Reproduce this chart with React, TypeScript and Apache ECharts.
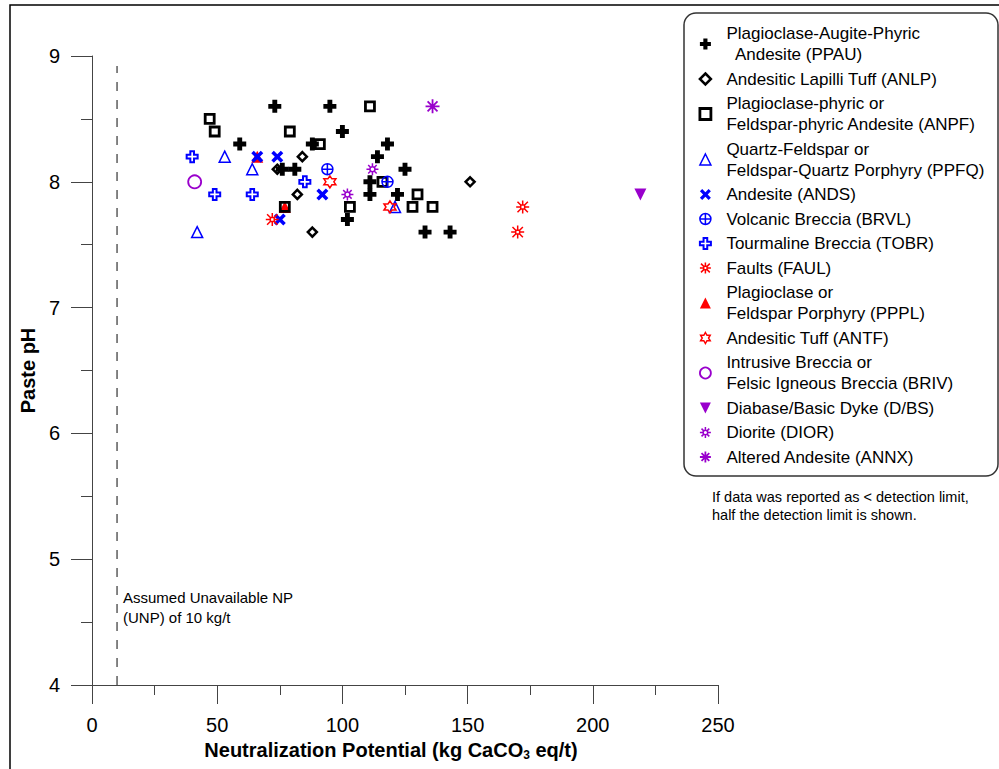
import React, { useEffect, useRef } from 'react';
import * as echarts from 'echarts';

// Axis ticks
const xTicks = [0, 50, 100, 150, 200, 250];
const yTicks = [4, 5, 6, 7, 8, 9];

// Series values: [NP (kg CaCO3 eq/t), paste pH]
const ppau = [[73, 8.6], [95, 8.6], [59, 8.3], [88, 8.3], [100, 8.4], [118, 8.3], [114, 8.2], [125, 8.1], [76, 8.1], [81, 8.1], [111, 8.0], [111, 7.9], [122, 7.9], [102, 7.7], [133, 7.6], [143, 7.6]];
const anlp = [[84, 8.2], [74, 8.1], [82, 7.9], [88, 7.6], [151, 8.0]];
const anpf = [[47, 8.5], [49, 8.4], [79, 8.4], [91, 8.3], [111, 8.6], [77, 7.8], [103, 7.8], [116, 8.0], [130, 7.9], [128, 7.8], [136, 7.8]];
const ppfq = [[42, 7.6], [53, 8.2], [64, 8.1], [121, 7.8]];
const ands = [[66, 8.2], [74, 8.2], [92, 7.9], [75, 7.7]];
const brvl = [[94, 8.1], [118, 8.0]];
const tobr = [[40, 8.2], [49, 7.9], [64, 7.9], [85, 8.0]];
const faul = [[72, 7.7], [170, 7.6], [172, 7.8]];
const pppl = [[66, 8.2], [77, 7.8]];
const antf = [[95, 8.0], [119, 7.8]];
const briv = [[41, 8.0]];
const dbs = [[219, 7.9]];
const dior = [[102, 7.9], [112, 8.1]];
const annx = [[136, 8.6]];

const unpValue = 10;
const unpLine = [[unpValue, 4], [unpValue, 8.92]];

const names = [
  'Plagioclase-Augite-Phyric\n  Andesite (PPAU)',
  'Andesitic Lapilli Tuff (ANLP)',
  'Plagioclase-phyric or\nFeldspar-phyric Andesite (ANPF)',
  'Quartz-Feldspar or\nFeldspar-Quartz Porphyry (PPFQ)',
  'Andesite (ANDS)',
  'Volcanic Breccia (BRVL)',
  'Tourmaline Breccia (TOBR)',
  'Faults (FAUL)',
  'Plagioclase or\nFeldspar Porphyry (PPPL)',
  'Andesitic Tuff (ANTF)',
  'Intrusive Breccia or\nFelsic Igneous Breccia (BRIV)',
  'Diabase/Basic Dyke (D/BS)',
  'Diorite (DIOR)',
  'Altered Andesite (ANNX)',
];

const BLACK = '#000000';
const BLUE = '#0000FF';
const RED = '#FF0000';
const PURPLE = '#9900CC';

const P_PLUS = 'path://M3.75,0H8.25V3.75H12V8.25H8.25V12H3.75V8.25H0V3.75H3.75Z';
const P_X = 'path://M0,2.5L2.5,0L6,3.5L9.5,0L12,2.5L8.5,6L12,9.5L9.5,12L6,8.5L2.5,12L0,9.5L3.5,6Z';
const P_CPLUS = 'path://M0,6A6,6,0,1,1,12,6A6,6,0,1,1,0,6ZM6,0V12M0,6H12';
const P_OPLUS = 'path://M4,0H8V4H12V8H8V12H4V8H0V4H4Z';
const P_BURST = 'path://M4.2,4.2H7.8V7.8H4.2ZM6,0V4.2M6,7.8V12M0,6H4.2M7.8,6H12M1.2,1.2L4.2,4.2M7.8,7.8L10.8,10.8M10.8,1.2L7.8,4.2M4.2,7.8L1.2,10.8';
const P_HEX = 'path://M6,0L7.73,3L11.2,3L9.46,6L11.2,9L7.73,9L6,12L4.27,9L0.8,9L2.54,6L0.8,3L4.27,3Z';
const P_DOWN = 'path://M0,0H12L6,12Z';
const P_SUN = 'path://M8.5,6A2.5,2.5,0,1,1,3.5,6A2.5,2.5,0,1,1,8.5,6ZM6,0V2.8M6,9.2V12M0,6H2.8M9.2,6H12M1.76,1.76L3.7,3.7M8.3,8.3L10.24,10.24M10.24,1.76L8.3,3.7M3.7,8.3L1.76,10.24';
const P_AST = 'path://M6,0V12M0,6H12M1.76,1.76L10.24,10.24M10.24,1.76L1.76,10.24';

type Def = { data: number[][]; symbol: string; size: number; fill: string; stroke: string; bw: number; z?: number };

const defs: Def[] = [
  { data: ppau, symbol: P_PLUS, size: 13, fill: BLACK, stroke: BLACK, bw: 0 },
  { data: anlp, symbol: 'diamond', size: 9, fill: 'transparent', stroke: BLACK, bw: 2.5 },
  { data: anpf, symbol: 'rect', size: 9, fill: 'transparent', stroke: BLACK, bw: 2.8 },
  { data: ppfq, symbol: 'triangle', size: 11, fill: 'transparent', stroke: BLUE, bw: 1.5 },
  { data: ands, symbol: P_X, size: 12, fill: BLUE, stroke: BLUE, bw: 0 },
  { data: brvl, symbol: P_CPLUS, size: 11, fill: 'transparent', stroke: BLUE, bw: 1.5 },
  { data: tobr, symbol: P_OPLUS, size: 11, fill: 'transparent', stroke: BLUE, bw: 2 },
  { data: faul, symbol: P_BURST, size: 13, fill: 'transparent', stroke: RED, bw: 1.5 },
  { data: pppl, symbol: 'triangle', size: 12, fill: RED, stroke: RED, bw: 0, z: 1 },
  { data: antf, symbol: P_HEX, size: 12, fill: 'transparent', stroke: RED, bw: 1.5 },
  { data: briv, symbol: 'circle', size: 13, fill: 'transparent', stroke: PURPLE, bw: 1.8 },
  { data: dbs, symbol: P_DOWN, size: 12, fill: PURPLE, stroke: PURPLE, bw: 0 },
  { data: dior, symbol: P_SUN, size: 12, fill: 'transparent', stroke: PURPLE, bw: 1.5 },
  { data: annx, symbol: P_AST, size: 14, fill: 'transparent', stroke: PURPLE, bw: 1.8 },
];

const FONT = '"Liberation Sans", Arial, sans-serif';
const AXIS = '#444444';

export default function App() {
  const ref = useRef<HTMLDivElement>(null);
  useEffect(() => {
    if (!ref.current) return;
    const chart = echarts.init(ref.current, null, { renderer: 'svg' });
    const scatter = defs.map((d, i) => ({
      type: 'scatter',
      name: names[i],
      data: d.data,
      symbol: d.symbol,
      symbolSize: d.size,
      z: d.z ?? 2,
      itemStyle: { color: d.fill, borderColor: d.stroke, borderWidth: d.bw, opacity: 1 },
      emphasis: { disabled: true },
    }));
    const legendData = defs.map((d, i) => ({
      name: names[i],
      itemStyle: { color: d.fill, borderColor: d.stroke, borderWidth: d.bw },
    }));
    const option: any = {
      animation: false,
      textStyle: { fontFamily: FONT },
      grid: { left: 92, right: 281, top: 56, bottom: 84, containLabel: false },
      xAxis: {
        type: 'value',
        min: xTicks[0],
        max: xTicks[xTicks.length - 1],
        interval: xTicks[1] - xTicks[0],
        axisLine: { show: true, onZero: false, lineStyle: { color: AXIS, width: 1 } },
        axisTick: { show: true, length: 19, lineStyle: { color: AXIS, width: 1 } },
        minorTick: { show: true, splitNumber: 2, length: 10, lineStyle: { color: AXIS, width: 1 } },
        splitLine: { show: false },
        axisLabel: { fontSize: 20, color: '#000', margin: 30, fontFamily: FONT },
        name: 'Neutralization Potential (kg CaCO{sub|3} eq/t)',
        nameLocation: 'middle',
        nameGap: 52,
        nameTextStyle: {
          fontSize: 20,
          fontWeight: 'bold',
          color: '#000',
          fontFamily: FONT,
          padding: [0, 28, 0, 0],
          rich: { sub: { fontSize: 12, fontWeight: 'bold', fontFamily: FONT, padding: [10, 0, 0, 0] } },
        },
      },
      yAxis: {
        type: 'value',
        min: yTicks[0],
        max: yTicks[yTicks.length - 1],
        interval: yTicks[1] - yTicks[0],
        axisLine: { show: true, onZero: false, lineStyle: { color: AXIS, width: 1 } },
        axisTick: { show: true, length: 21, lineStyle: { color: AXIS, width: 1 } },
        minorTick: { show: true, splitNumber: 2, length: 11, lineStyle: { color: AXIS, width: 1 } },
        splitLine: { show: false },
        axisLabel: { fontSize: 20, color: '#000', margin: 32, fontFamily: FONT },
        name: 'Paste pH',
        nameLocation: 'middle',
        nameGap: 53,
        nameTextStyle: { fontSize: 20, fontWeight: 'bold', color: '#000', fontFamily: FONT },
      },
      legend: {
        orient: 'vertical',
        left: 698.5,
        top: 23,
        padding: 0,
        itemGap: 3.5,
        itemWidth: 11,
        itemHeight: 11,
        selectedMode: false,
        textStyle: { fontSize: 17, lineHeight: 21, color: '#000', fontFamily: FONT, padding: [0, 0, 0, 10.5] },
        data: legendData,
      },
      graphic: [
        { type: 'rect', z: -1, shape: { x: 10, y: 5, width: 1200, height: 1200 }, style: { fill: 'none', stroke: '#000', lineWidth: 1.5 } },
        { type: 'rect', z: -1, shape: { x: 684, y: 13, width: 314, height: 463, r: 12 }, style: { fill: '#fff', stroke: '#333', lineWidth: 1.5 } },
        {
          type: 'text', left: 123, top: 587,
          style: { text: 'Assumed Unavailable NP\n(UNP) of 10 kg/t', fontSize: 15, lineHeight: 20, fill: '#000', fontFamily: FONT },
        },
        {
          type: 'text', left: 712, top: 488,
          style: { text: 'If data was reported as < detection limit,\nhalf the detection limit is shown.', fontSize: 14.5, lineHeight: 18, fill: '#000', fontFamily: FONT },
        },
      ],
      series: [
        {
          type: 'line',
          name: 'UNP',
          data: unpLine,
          symbol: 'none',
          z: 1,
          lineStyle: { color: '#333', width: 1.2, type: [9, 9] },
          emphasis: { disabled: true },
        },
        ...scatter,
      ],
    };
    chart.setOption(option);
    return () => chart.dispose();
  }, []);
  return (
    <div
      ref={ref}
      style={{ position: 'fixed', left: 0, top: 0, width: 999, height: 769, background: '#fff' }}
    />
  );
}
